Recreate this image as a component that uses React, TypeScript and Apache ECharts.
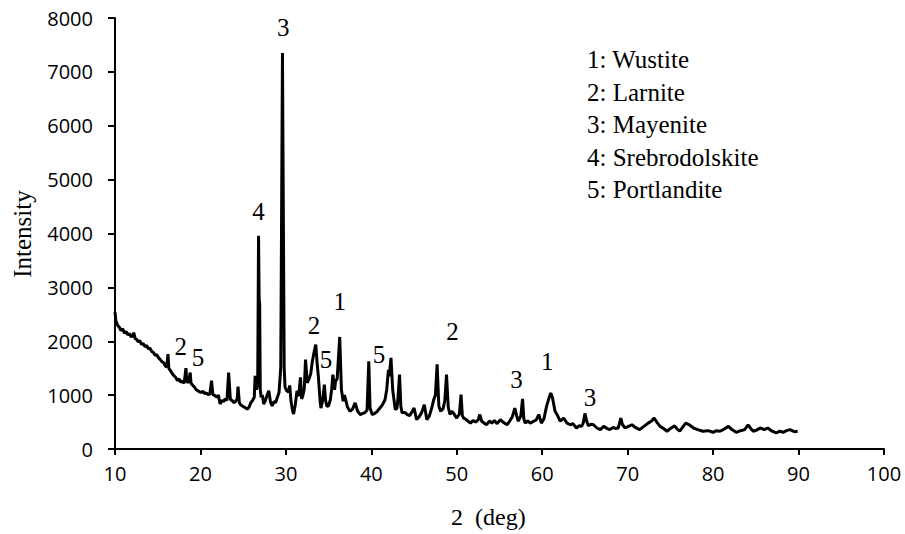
import React, { useEffect, useRef } from "react";
import * as echarts from "echarts";

const twoTheta: number[] = [
  10.0, 10.1, 10.3, 10.5, 10.7, 10.9, 11.1, 11.3, 11.5, 11.7, 11.9, 12.1, 12.2, 12.35, 12.5, 12.7, 12.9, 13.1, 13.3, 13.5,
  13.7, 13.9, 14.1, 14.3, 14.5, 14.7, 14.9, 15.1, 15.3, 15.5, 15.7, 15.9, 16.05, 16.2, 16.3, 16.5, 16.7, 16.9, 17.1, 17.3,
  17.5, 17.7, 17.9, 18.1, 18.3, 18.4, 18.6, 18.8, 18.9, 19.1, 19.3, 19.5, 19.7, 19.9, 20.1, 20.3, 20.5, 20.7, 20.9, 21.1,
  21.3, 21.45, 21.7, 21.9, 22.1, 22.3, 22.5, 22.7, 22.9, 23.1, 23.3, 23.5, 23.7, 23.9, 24.1, 24.3, 24.4, 24.55, 24.7, 24.9,
  25.1, 25.3, 25.5, 25.7, 25.9, 26.1, 26.3, 26.4, 26.55, 26.7, 26.8, 26.87, 26.93, 27.0, 27.1, 27.25, 27.4, 27.6, 27.8, 28.0,
  28.2, 28.4, 28.6, 28.8, 29.0, 29.2, 29.4, 29.6, 29.8, 29.9, 30.1, 30.3, 30.45, 30.6, 30.8, 30.9, 31.1, 31.3, 31.5, 31.7,
  31.85, 32.0, 32.15, 32.3, 32.5, 32.7, 32.9, 33.1, 33.3, 33.5, 33.65, 33.8, 34.0, 34.1, 34.3, 34.5, 34.65, 34.8, 35.0, 35.2,
  35.35, 35.5, 35.7, 35.8, 36.0, 36.3, 36.5, 36.7, 36.85, 37.0, 37.2, 37.5, 37.8, 38.1, 38.4, 38.7, 39.0, 39.2, 39.5, 39.7,
  39.85, 40.1, 40.4, 40.7, 41.0, 41.3, 41.6, 41.8, 42.0, 42.1, 42.3, 42.5, 42.8, 43.0, 43.1, 43.3, 43.45, 43.6, 43.9, 44.2,
  44.5, 44.8, 45.0, 45.3, 45.6, 45.9, 46.2, 46.5, 46.8, 47.1, 47.3, 47.5, 47.7, 47.9, 48.1, 48.4, 48.6, 48.8, 49.0, 49.2,
  49.4, 49.6, 49.8, 50.0, 50.3, 50.5, 50.65, 50.8, 51.0, 51.3, 51.6, 51.9, 52.2, 52.5, 52.7, 52.9, 53.2, 53.5, 53.8, 54.1,
  54.4, 54.7, 55.1, 55.4, 55.7, 55.9, 56.2, 56.5, 56.8, 57.0, 57.2, 57.5, 57.7, 57.85, 58.0, 58.3, 58.6, 59.0, 59.3, 59.6,
  59.9, 60.2, 60.5, 60.8, 61.0, 61.2, 61.5, 61.8, 62.1, 62.5, 62.9, 63.3, 63.6, 64.0, 64.3, 64.6, 64.8, 65.0, 65.2, 65.4,
  65.7, 66.0, 66.4, 66.8, 67.2, 67.6, 67.9, 68.3, 68.6, 68.9, 69.2, 69.4, 69.7, 70.1, 70.5, 70.9, 71.4, 71.9, 72.4, 72.8,
  73.1, 73.4, 73.8, 74.2, 74.6, 75.0, 75.5, 75.8, 76.1, 76.5, 76.8, 77.2, 77.7, 78.2, 78.8, 79.4, 80.0, 80.4, 80.8, 81.3,
  81.8, 82.2, 82.7, 83.2, 83.7, 84.1, 84.4, 84.7, 85.1, 85.5, 86.0, 86.4, 86.9, 87.4, 87.8, 88.2, 88.6, 89.0, 89.5, 89.9,
];

const intensity: number[] = [
  2540, 2380, 2300, 2260, 2200, 2230, 2150, 2180, 2120, 2140, 2080, 2110, 2160, 2050, 2040, 1990, 2010, 1940, 1960, 1900,
  1920, 1860, 1870, 1810, 1790, 1740, 1750, 1690, 1660, 1620, 1600, 1540, 1520, 1760, 1500, 1450, 1400, 1360, 1330, 1270,
  1300, 1240, 1260, 1220, 1500, 1260, 1230, 1420, 1220, 1180, 1150, 1100, 1080, 1060, 1050, 1070, 1030, 1040, 1010, 1020,
  1270, 1010, 990, 960, 1000, 835, 900, 880, 930, 900, 1420, 920, 900, 860, 880, 930, 1160, 860, 820, 800,
  780, 760, 740, 780, 860, 900, 960, 1360, 1100, 1200, 3960, 2780, 2700, 1100, 960, 1000, 835, 900, 1000, 1080,
  870, 800, 880, 860, 960, 1050, 1520, 7350, 1520, 1150, 1080, 1060, 1180, 880, 700, 650, 820, 1080, 980, 1330,
  930, 1000, 1120, 1660, 1225, 1300, 1390, 1630, 1800, 1940, 1600, 1350, 900, 760, 900, 1195, 900, 790, 800, 915,
  1100, 1380, 1100, 1255, 1300, 2080, 1100, 885, 1000, 915, 780, 700, 740, 855, 700, 640, 660, 670, 720, 1630,
  760, 640, 660, 700, 760, 820, 915, 1100, 1470, 1350, 1690, 1100, 730, 760, 900, 1380, 800, 670, 680, 640,
  620, 700, 760, 545, 600, 680, 820, 545, 620, 780, 915, 1000, 1570, 800, 700, 750, 900, 1380, 780, 640,
  700, 670, 620, 575, 650, 1010, 620, 575, 560, 520, 480, 530, 500, 540, 640, 520, 480, 450, 520, 480,
  530, 470, 545, 500, 470, 450, 520, 600, 760, 620, 515, 620, 930, 560, 480, 520, 480, 515, 540, 640,
  480, 560, 790, 950, 1040, 950, 700, 620, 515, 575, 480, 450, 470, 390, 430, 420, 480, 660, 520, 430,
  460, 450, 390, 360, 420, 380, 360, 400, 380, 390, 575, 450, 390, 420, 450, 400, 360, 420, 480, 520,
  575, 500, 420, 380, 330, 380, 430, 370, 330, 420, 480, 450, 390, 360, 330, 340, 310, 340, 330, 370,
  420, 360, 310, 340, 360, 450, 380, 330, 350, 390, 360, 390, 330, 300, 330, 310, 340, 360, 320, 330,
];

// Peak phase markers: [2θ, intensity position, phase number]
const peakLabelX: number[] = [17.7, 19.7, 26.8, 29.7, 33.3, 34.7, 36.3, 40.9, 49.5, 57.0, 60.6, 65.6];
const peakLabelY: number[] = [1900, 1690, 4400, 7830, 2300, 1660, 2730, 1750, 2180, 1290, 1620, 950];
const peakLabelText: string[] = ["2", "5", "4", "3", "2", "5", "1", "5", "2", "3", "1", "3"];

const phaseLegend: string[] = [
  "1: Wustite",
  "2: Larnite",
  "3: Mayenite",
  "4: Srebrodolskite",
  "5: Portlandite",
];

const xTicks = { min: 10, max: 100, interval: 10 };
const yTicks = { min: 0, max: 8000, interval: 1000 };

const SERIF = "'Liberation Serif', 'Times New Roman', serif";
const SANS = "'Open Sans', 'Noto Sans', sans-serif";

export default function App() {
  const ref = useRef<HTMLDivElement>(null);

  useEffect(() => {
    if (!ref.current) return;
    const chart = echarts.init(ref.current, undefined, { renderer: "svg" });

    const lineData = twoTheta.map((x, i) => [x, intensity[i]]);
    const labelData = peakLabelX.map((x, i) => [x, peakLabelY[i], peakLabelText[i]]);

    const legendTexts = phaseLegend.map((t, i) => ({
      type: "text",
      left: 587,
      top: 47 + i * 32.5,
      style: { text: t, font: `25px ${SERIF}`, fill: "#000" },
      silent: true,
    }));

    chart.setOption({
      animation: false,
      backgroundColor: "#fff",
      grid: { left: 115, right: 21, top: 18, bottom: 85, containLabel: false },
      xAxis: {
        type: "value",
        min: xTicks.min,
        max: xTicks.max,
        interval: xTicks.interval,
        axisLine: { show: true, onZero: false, lineStyle: { color: "#000", width: 2 } },
        axisTick: { show: true, inside: false, length: 6, lineStyle: { color: "#000", width: 2 } },
        axisLabel: { color: "#000", fontFamily: SANS, fontSize: 20, margin: 14, formatter: (v: number) => String(v) },
        splitLine: { show: false },
      },
      yAxis: {
        type: "value",
        min: yTicks.min,
        max: yTicks.max,
        interval: yTicks.interval,
        axisLine: { show: true, lineStyle: { color: "#000", width: 2 } },
        axisTick: { show: true, inside: false, length: 7, lineStyle: { color: "#000", width: 2 } },
        axisLabel: { color: "#000", fontFamily: SANS, fontSize: 20, margin: 22, formatter: (v: number) => String(v) },
        splitLine: { show: false },
      },
      graphic: [
        {
          type: "text",
          x: 22,
          y: 234,
          rotation: Math.PI / 2,
          style: {
            text: "Intensity",
            font: `25px ${SERIF}`,
            fill: "#000",
            align: "center",
            verticalAlign: "middle",
          },
          silent: true,
        },
        {
          type: "text",
          left: 451,
          top: 505,
          style: { text: "2  (deg)", font: `24px ${SERIF}`, fill: "#000" },
          silent: true,
        },
        ...legendTexts,
      ],
      series: [
        {
          type: "line",
          data: lineData,
          showSymbol: false,
          symbol: "none",
          lineStyle: { color: "#000", width: 3 },
          silent: true,
          z: 2,
        },
        {
          type: "scatter",
          data: labelData,
          symbolSize: 0,
          silent: true,
          itemStyle: { opacity: 1, color: "#000" },
          label: {
            show: true,
            position: "inside",
            formatter: (p: any) => p.value[2],
            color: "#000",
            opacity: 1,
            textBorderWidth: 0,
            textBorderColor: "transparent",
            fontFamily: SERIF,
            fontSize: 25,
          },
          z: 3,
        },
      ],
    });

    return () => chart.dispose();
  }, []);

  return (
    <div
      ref={ref}
      style={{ position: "fixed", left: 0, top: 0, width: 905, height: 534 }}
    />
  );
}
